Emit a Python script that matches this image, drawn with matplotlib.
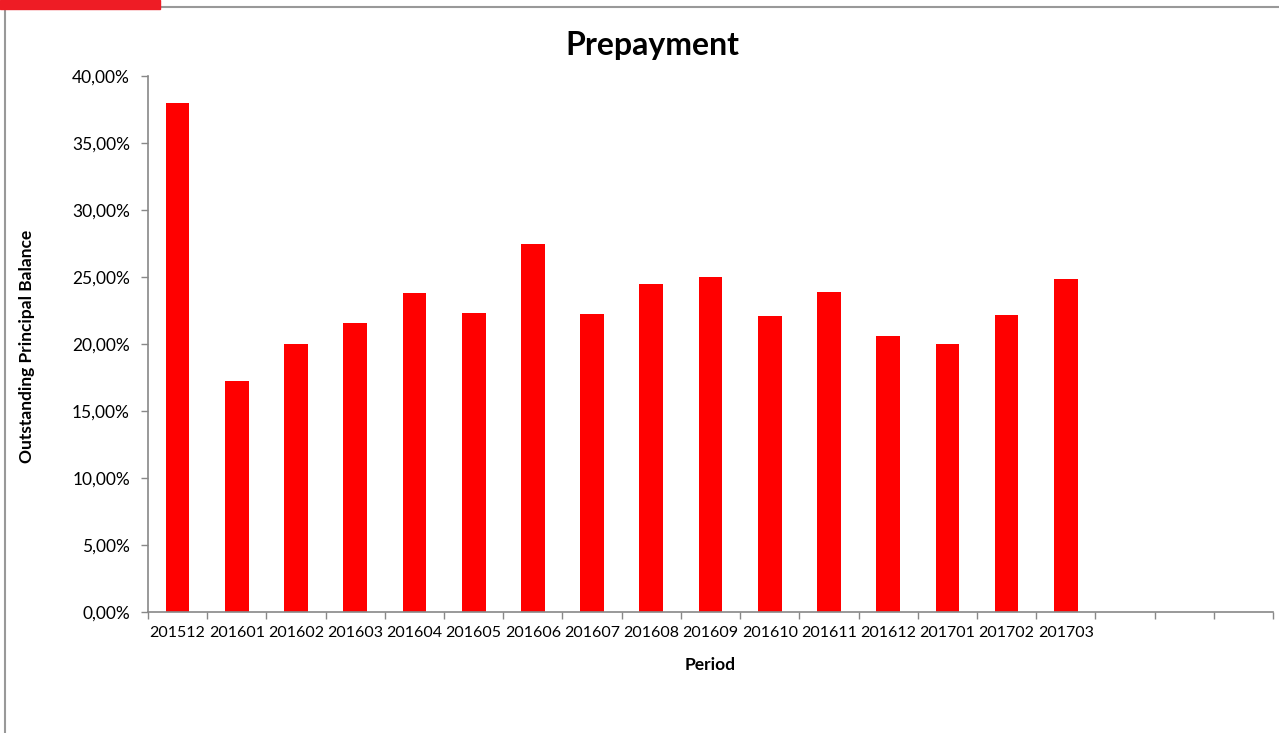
import matplotlib
matplotlib.use("Agg")
import matplotlib.pyplot as plt
from matplotlib.ticker import FuncFormatter, MultipleLocator
from matplotlib.patches import Rectangle
from matplotlib.lines import Line2D

periods = ["201512", "201601", "201602", "201603", "201604", "201605", "201606",
           "201607", "201608", "201609", "201610", "201611", "201612", "201701",
           "201702", "201703"]
prepayment = [37.97, 17.26, 20.00, 21.57, 23.81, 22.31, 27.44, 22.21,
              24.48, 24.97, 22.06, 23.88, 20.62, 20.00, 22.19, 24.85]
n_slots = 19  # category axis keeps three empty slots on the right

plt.rcParams['font.family'] = ['Lato', 'DejaVu Sans']

W, H = 1279, 733
fig = plt.figure(figsize=(W / 100, H / 100), dpi=100)
ax = fig.add_axes([148 / W, 1 - 612 / H, (1273 - 148) / W, (612 - 76) / H])

x = list(range(len(periods)))
ax.bar(x, prepayment, width=0.4, color="#FF0000", edgecolor="none", zorder=2)

ax.set_xlim(-0.5, n_slots - 0.5)
ax.set_ylim(0, 40)
ax.yaxis.set_major_locator(MultipleLocator(5))
ax.yaxis.set_major_formatter(FuncFormatter(lambda v, p: f"{v:.2f}".replace(".", ",") + "%"))

ax.set_xticks([i - 0.5 for i in range(n_slots + 1)])
ax.set_xticklabels([])
ax.set_xticks(x, minor=True)
ax.set_xticklabels(periods, minor=True)
ax.tick_params(axis="x", which="minor", length=0, pad=10, labelsize=11.5)
ax.tick_params(axis="x", which="major", length=5, width=1, color="#888888", direction="out")
ax.tick_params(axis="y", length=5, width=1, color="#888888", direction="out", labelsize=12.5, pad=8)

for side in ("top", "right"):
    ax.spines[side].set_visible(False)
for side in ("left", "bottom"):
    ax.spines[side].set_color("#888888")
    ax.spines[side].set_linewidth(1.2)

fig.text(652 / W, 1 - 46 / H, "Prepayment", ha="center", va="center",
         fontsize=23, fontweight="bold")
fig.text(27 / W, 1 - 346 / H, "Outstanding Principal Balance", ha="center", va="center",
         rotation=90, fontsize=12.5, fontweight="bold")
fig.text(710 / W, 1 - 665 / H, "Period", ha="center", va="center",
         fontsize=12.5, fontweight="bold")

# outer frame of the sheet
fig.add_artist(Line2D([4.5 / W, 1], [1 - 7 / H, 1 - 7 / H], color="#999999", lw=1.5))
fig.add_artist(Line2D([4.5 / W, 4.5 / W], [0, 1 - 7 / H], color="#999999", lw=1.5))
fig.add_artist(Rectangle((0, 1 - 9 / H), 160 / W, 9 / H, color="#EE1C25",
                         transform=fig.transFigure, zorder=3))

fig.savefig("out.png", dpi=100)
